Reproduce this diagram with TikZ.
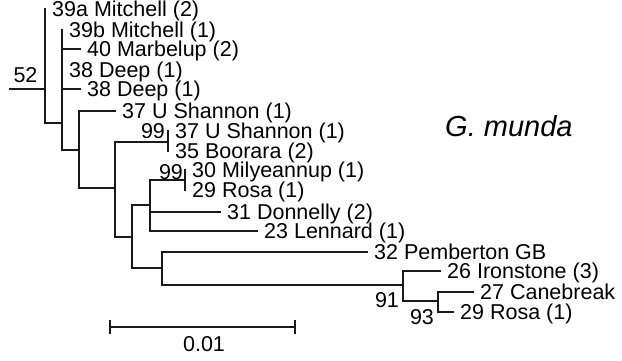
\documentclass[tikz,border=0pt]{standalone}
\usepackage{fontspec}
\setmainfont{Liberation Sans}
\begin{document}
\begin{tikzpicture}[x=1pt,y=-1pt,
  br/.style={line width=1.2pt,line cap=rect,draw=black!90},
  lab/.style={anchor=base west,inner sep=0pt,xshift=7pt,yshift=-7.7pt,font=\fontsize{21.5}{21.5}\selectfont},
  boot/.style={anchor=base,inner sep=0pt,yshift=-7.7pt,font=\fontsize{21.5}{21.5}\selectfont},
  title/.style={anchor=base west,inner sep=0pt,font=\fontsize{29}{29}\selectfont\itshape}]
\useasboundingbox (0,0) rectangle (622,360);
% internal nodes (x of vertical, y of stem)
\coordinate (r0) at (10,89);
\coordinate (n45) at (45,89);
\coordinate (n62) at (62,123);
\coordinate (n79) at (79,150);
\coordinate (n115) at (115,188);
\coordinate (n168) at (168,142);
\coordinate (n132) at (132,237);
\coordinate (n150) at (150,205);
\coordinate (n185) at (185,180);
\coordinate (n162) at (162,268);
\coordinate (n403) at (403,285);
\coordinate (n438) at (438,301);
% tips
\coordinate (t1) at (45,9);
\coordinate (t2) at (62,30);
\coordinate (t3) at (80,49);
\coordinate (t4) at (62,70);
\coordinate (t5) at (80,89);
\coordinate (t6) at (115,111);
\coordinate (t7) at (168,131);
\coordinate (t8) at (168,151);
\coordinate (t9) at (185,170);
\coordinate (t10) at (185,190);
\coordinate (t11) at (220,212);
\coordinate (t12) at (257,231);
\coordinate (t13) at (367,252);
\coordinate (t14) at (440,271);
\coordinate (t15) at (473,292);
\coordinate (t16) at (453,312);
% branches
\draw[br] (r0) -- (n45);
\draw[br] (n45) |- (t1);
\draw[br] (n45) |- (n62);
\draw[br] (n62) |- (t2);
\draw[br] (n62) |- (t3);
\draw[br] (n62) |- (t4);
\draw[br] (n62) |- (t5);
\draw[br] (n62) |- (n79);
\draw[br] (n79) |- (t6);
\draw[br] (n79) |- (n115);
\draw[br] (n115) |- (n168);
\draw[br] (n115) |- (n132);
\draw[br] (n168) |- (t7);
\draw[br] (n168) |- (t8);
\draw[br] (n132) |- (n150);
\draw[br] (n132) |- (n162);
\draw[br] (n150) |- (n185);
\draw[br] (n150) |- (t11);
\draw[br] (n150) |- (t12);
\draw[br] (n185) |- (t9);
\draw[br] (n185) |- (t10);
\draw[br] (n162) |- (t13);
\draw[br] (n162) |- (n403);
\draw[br] (n403) |- (t14);
\draw[br] (n403) |- (n438);
\draw[br] (n438) |- (t15);
\draw[br] (n438) |- (t16);
% tip labels
\node[lab] (l1) at (t1) {39a Mitchell (2)};
\node[lab] (l2) at (t2) {39b Mitchell (1)};
\node[lab] (l3) at (t3) {40 Marbelup (2)};
\node[lab] (l4) at (t4) {38 Deep (1)};
\node[lab] (l5) at (t5) {38 Deep (1)};
\node[lab] (l6) at (t6) {37 U Shannon (1)};
\node[lab] (l7) at (t7) {37 U Shannon (1)};
\node[lab] (l8) at (t8) {35 Boorara (2)};
\node[lab] (l9) at (t9) {30 Milyeannup (1)};
\node[lab] (l10) at (t10) {29 Rosa (1)};
\node[lab] (l11) at (t11) {31 Donnelly (2)};
\node[lab] (l12) at (t12) {23 Lennard (1)};
\node[lab] (l13) at (t13) {32 Pemberton GB};
\node[lab] (l14) at (t14) {26 Ironstone (3)};
\node[lab] (l15) at (t15) {27 Canebreak};
\node[lab] (l16) at (t16) {29 Rosa (1)};
% bootstrap values
\node[boot] (b52) at (25.5,75) {52};
\node[boot] (b99a) at (153,131) {99};
\node[boot] (b99b) at (171,172) {99};
\node[boot] (b91) at (387,300) {91};
\node[boot] (b93) at (422,317) {93};
% scale bar
\coordinate (s1) at (110,327);
\coordinate (s2) at (295,327);
\draw[br] (s1) -- (s2);
\draw[br] ([yshift=6pt]s1) -- ([yshift=-6pt]s1);
\draw[br] ([yshift=6pt]s2) -- ([yshift=-6pt]s2);
\node[boot] (sl) at (204,344) {0.01};
% title
\node[title] (ttl) at (445,136) {G. munda};
\end{tikzpicture}
\end{document}
